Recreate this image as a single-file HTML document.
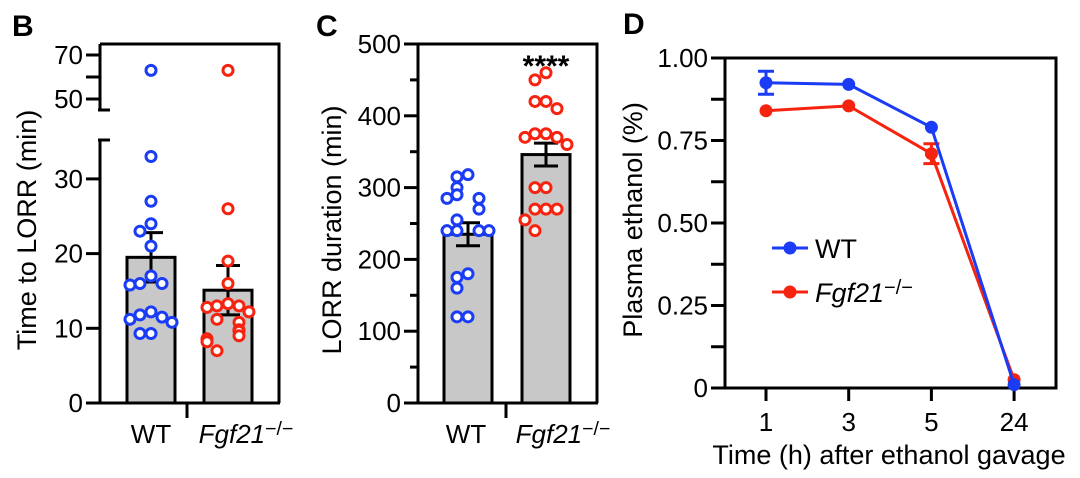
<!DOCTYPE html>
<html><head><meta charset="utf-8"><style>
html,body{margin:0;padding:0;background:#fff;}
svg{display:block;font-family:"Liberation Sans",Arial,sans-serif;}
</style></head><body>
<svg id="fig" width="1080" height="478" viewBox="0 0 1080 478" xmlns="http://www.w3.org/2000/svg">
<g id="pB"></g>
<g id="pC"></g>
<g id="pD"></g>
</svg>
<script>
// ---- Panel B data ----
const bCategories = ["WT", "Fgf21"];
const bMeans = [19.5, 15.1];
const bSem = [3.3, 3.3];
const bWT = [63, 33, 27, 24, 23, 21, 17, 16, 16, 15.8, 12.2, 11.8, 11.5, 11.2, 10.8, 9.3, 9.3];
const bKO = [63, 26, 19, 16, 13.3, 13, 13, 12.8, 12.2, 11.2, 10.8, 9.8, 9.6, 9, 8.6, 8.2, 7];
const bTicksLow = [0, 10, 20, 30];
const bTicksHigh = [50, 70];
// ---- Panel C data ----
const cCategories = ["WT", "Fgf21"];
const cMeans = [235, 346];
const cSem = [16, 16];
const cWT = [318, 315, 300, 290, 285, 285, 270, 255, 240, 240, 240, 240, 180, 175, 160, 120, 120];
const cKO = [460, 450, 420, 420, 410, 375, 375, 370, 370, 360, 300, 300, 270, 270, 270, 255, 240];
const cTicks = [0, 100, 200, 300, 400, 500];
// ---- Panel D data ----
const dTimes = ["1", "3", "5", "24"];
const dWT = [0.925, 0.92, 0.79, 0.01];
const dWTerr = [0.035, 0.005, 0.005, 0.005];
const dKO = [0.84, 0.855, 0.71, 0.025];
const dKOerr = [0.005, 0.005, 0.03, 0.005];
const dTicks = [0, 0.25, 0.5, 0.75, 1.0];
const dTickLabels = ["0", "0.25", "0.50", "0.75", "1.00"];

const NS = "http://www.w3.org/2000/svg";
function mk(parent, tag, attrs, text) {
  const e = document.createElementNS(NS, tag);
  for (const k in attrs) e.setAttribute(k, attrs[k]);
  if (text !== undefined) e.textContent = text;
  parent.appendChild(e);
  return e;
}
const BLUE = "#1a3cf5", RED = "#f5230f";
const TICKF = 26, TITLEF = 27;

function jitter(vals, scaleY) {
  const placed = [];
  return vals.map(v => {
    const y = scaleY(v);
    let n = placed.filter(p => Math.abs(p - y) < 11).length;
    placed.push(y);
    const offs = [0, -11, 11, -21, 21, -6, 6];
    return offs[n % offs.length];
  });
}

function fgfLabel(g, x, y, size) {
  const t = mk(g, "text", {x: x, y: y, "font-size": size, "text-anchor": "middle", "font-style": "italic"});
  
  
  mk(t, "tspan", {}, "Fgf21");
  mk(t, "tspan", {"font-size": size * 0.75, dy: -8, "font-style": "normal"}, "−/−");
  return t;
}

// ---------- Panel B ----------
(function () {
  const g = document.getElementById("pB");
  const y0 = 403, k = 7.47;
  const yLow = v => y0 - v * k;
  const yHigh = v => 99 - (v - 50) * 2.2;
  const yB = v => v >= 45 ? yHigh(v) : yLow(v);
  const L = 100, R = 279, T = 44;
  let t = mk(g, "text", {x: 12, y: 36, "font-size": 30, "font-weight": "bold"}, "B");
   
  let f = mk(g, "path", {d: `M${L} ${T} H${R} V${y0}`, fill: "none", stroke: "#000", "stroke-width": 3});
   
  let a = mk(g, "path", {d: `M${L} ${yLow(35.2)} V${y0} M${L} ${T} V${yHigh(45)} M${L-2} ${yHigh(45)} H${L+10} M${L-2} ${yLow(35.2)} H${L+10}`, stroke: "#000", "stroke-width": 3, fill: "none"});
   
  let xa = mk(g, "path", {d: `M86 ${y0} H${R+1} M187 ${y0} V418`, stroke: "#000", "stroke-width": 3});
   
  bTicksLow.forEach(v => {
    const y = yLow(v);
    const tk = mk(g, "line", {x1: 86, x2: L, y1: y, y2: y, stroke: "#000", "stroke-width": 3});
     
    const tl = mk(g, "text", {x: 83, y: y + 9, "font-size": TICKF, "text-anchor": "end"}, String(v));
     
  });
  [50, 60, 70].forEach(v => {
    const y = yHigh(v);
    const tk = mk(g, "line", {x1: 86, x2: L, y1: y, y2: y, stroke: "#000", "stroke-width": 3});
     
  });
  bTicksHigh.forEach(v => {
    const y = yHigh(v);
    const tl = mk(g, "text", {x: 83, y: y + 9, "font-size": TICKF, "text-anchor": "end"}, String(v));
     
  });
  const yt = mk(g, "text", {transform: "translate(36 230) rotate(-90)", "font-size": TITLEF, "text-anchor": "middle"}, "Time to LORR (min)");
   
  const cx = [151, 228];
  const pts = [bWT, bKO], cols = [BLUE, RED];
  cx.forEach((c, i) => {
    const b = mk(g, "rect", {x: c - 24, y: yLow(bMeans[i]), width: 48, height: y0 - yLow(bMeans[i]), fill: "#c8c8c8", stroke: "#000", "stroke-width": 3});
     
    const hi = yLow(bMeans[i] + bSem[i]), lo = yLow(bMeans[i] - bSem[i]);
    const e = mk(g, "path", {d: `M${c} ${hi} V${lo} M${c-12} ${hi} H${c+12} M${c-12} ${lo} H${c+12}`, stroke: "#000", "stroke-width": 3});
     
    const offs = jitter(pts[i], yB);
    pts[i].forEach((v, j) => {
      const p = mk(g, "circle", {cx: c + offs[j], cy: yB(v), r: 5, fill: "#fff", stroke: cols[i], "stroke-width": 3});
       
    });
  });
  const l1 = mk(g, "text", {x: 151, y: 443, "font-size": TICKF, "text-anchor": "middle"}, "WT");
   
  fgfLabel(g, 246, 443, TICKF);
})();

// ---------- Panel C ----------
(function () {
  const g = document.getElementById("pC");
  const y0 = 403, T = 44, L = 418, R = 597;
  const yS = v => y0 - v * (y0 - T) / 500;
  let t = mk(g, "text", {x: 316, y: 36, "font-size": 30, "font-weight": "bold"}, "C");
   
  let f = mk(g, "path", {d: `M${L} ${y0} V${T} H${R} V${y0}`, fill: "none", stroke: "#000", "stroke-width": 3});
   
  let xa = mk(g, "path", {d: `M404 ${y0} H${R+1} M506 ${y0} V418`, stroke: "#000", "stroke-width": 3});
   
  for (let v = 0; v <= 500; v += 50) {
    const y = yS(v);
    const tk = mk(g, "line", {x1: v % 100 ? 410 : 404, x2: L, y1: y, y2: y, stroke: "#000", "stroke-width": 3});
     
  }
  cTicks.forEach(v => {
    const tl = mk(g, "text", {x: 401, y: yS(v) + 9, "font-size": TICKF, "text-anchor": "end"}, String(v));
     
  });
  const yt = mk(g, "text", {transform: "translate(341 230) rotate(-90)", "font-size": TITLEF, "text-anchor": "middle"}, "LORR duration (min)");
   
  const cx = [468, 546], pts = [cWT, cKO], cols = [BLUE, RED];
  cx.forEach((c, i) => {
    const b = mk(g, "rect", {x: c - 24, y: yS(cMeans[i]), width: 48, height: y0 - yS(cMeans[i]), fill: "#c8c8c8", stroke: "#000", "stroke-width": 3});
     
    const hi = yS(cMeans[i] + cSem[i]), lo = yS(cMeans[i] - cSem[i]);
    const e = mk(g, "path", {d: `M${c} ${hi} V${lo} M${c-12} ${hi} H${c+12} M${c-12} ${lo} H${c+12}`, stroke: "#000", "stroke-width": 3});
     
    const offs = jitter(pts[i], yS);
    pts[i].forEach((v, j) => {
      const p = mk(g, "circle", {cx: c + offs[j], cy: yS(v), r: 5, fill: "#fff", stroke: cols[i], "stroke-width": 3});
       
    });
  });
  const st = mk(g, "text", {x: 546, y: 76, "font-size": 30, "text-anchor": "middle", "font-weight": "bold"}, "****");
   
  const l1 = mk(g, "text", {x: 466, y: 443, "font-size": TICKF, "text-anchor": "middle"}, "WT");
   
  fgfLabel(g, 563, 443, TICKF);
})();

// ---------- Panel D ----------
(function () {
  const g = document.getElementById("pD");
  const L = 725, R = 1056, T = 58, B = 388;
  const yS = v => B - v * (B - T);
  const xS = i => 766 + i * 82.7;
  let t = mk(g, "text", {x: 623, y: 34, "font-size": 30, "font-weight": "bold"}, "D");
   
  let f = mk(g, "rect", {x: L, y: T, width: R - L, height: B - T, fill: "none", stroke: "#000", "stroke-width": 3});
   
  for (let v = 0; v <= 1.0001; v += 0.125) {
    const y = yS(v);
    const tk = mk(g, "line", {x1: 711, x2: L, y1: y, y2: y, stroke: "#000", "stroke-width": 3});
     
  }
  dTicks.forEach((v, i) => {
    const tl = mk(g, "text", {x: 708, y: yS(v) + 9, "font-size": TICKF, "text-anchor": "end"}, dTickLabels[i]);
     
  });
  dTimes.forEach((s, i) => {
    const x = xS(i);
    const tk = mk(g, "line", {x1: x, x2: x, y1: B, y2: B + 13, stroke: "#000", "stroke-width": 3});
     
    const tl = mk(g, "text", {x: x, y: 431, "font-size": TICKF, "text-anchor": "middle"}, s);
     
  });
  const xt = mk(g, "text", {x: 889, y: 464, "font-size": TITLEF, "text-anchor": "middle"}, "Time (h) after ethanol gavage");
   
  const yt = mk(g, "text", {transform: "translate(642 220) rotate(-90)", "font-size": TITLEF, "text-anchor": "middle"}, "Plasma ethanol (%)");
   
  const series = [[dKO, dKOerr, RED, 'ko'], [dWT, dWTerr, BLUE, 'wt']];
  series.forEach(([vals, errs, col, nm]) => {
    const d = vals.map((v, i) => (i ? "L" : "M") + xS(i) + " " + yS(v)).join(" ");
    const ln = mk(g, "path", {d: d, fill: "none", stroke: col, "stroke-width": 3});
     
    vals.forEach((v, i) => {
      const x = xS(i);
      if (errs[i] > 0.008) {
        const hi = yS(v + errs[i]), lo = yS(v - errs[i]);
        const e = mk(g, "path", {d: `M${x} ${hi} V${lo} M${x-8} ${hi} H${x+8} M${x-8} ${lo} H${x+8}`, stroke: col, "stroke-width": 3});
         
      }
      const p = mk(g, "circle", {cx: x, cy: yS(v), r: 6.5, fill: col});
       
    });
  });
  [[BLUE, 248, 'WT'], [RED, 292, null]].forEach(([col, y, lab]) => {
    const ll = mk(g, "line", {x1: 772, x2: 808, y1: y, y2: y, stroke: col, "stroke-width": 3});
     
    const lc = mk(g, "circle", {cx: 790, cy: y, r: 6.5, fill: col});
     
    if (lab) {
      const lt = mk(g, "text", {x: 815, y: y + 10, "font-size": TITLEF}, lab);
       
    } else {
      const lt = mk(g, "text", {x: 815, y: y + 10, "font-size": TITLEF, "font-style": "italic"});
       
      mk(lt, "tspan", {}, "Fgf21");
      mk(lt, "tspan", {"font-size": 20, dy: -8, "font-style": "normal"}, "−/−");
    }
  });
})();
</script>
</body></html>
